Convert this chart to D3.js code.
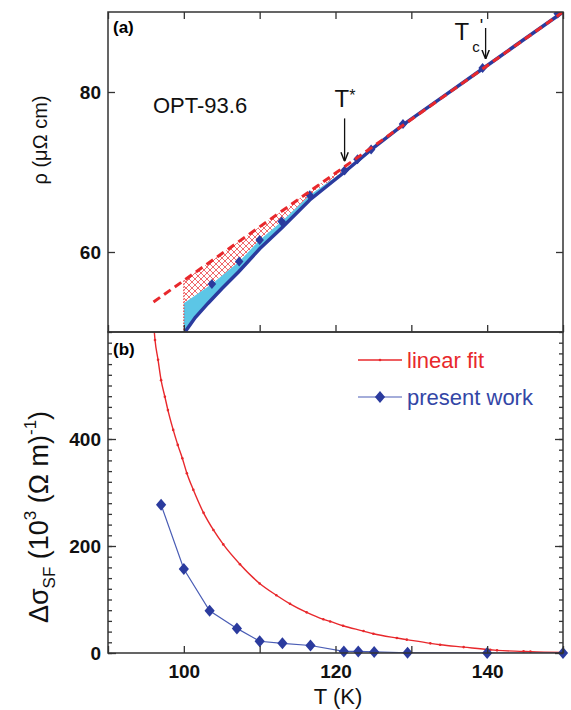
<!DOCTYPE html>
<html>
<head>
<meta charset="utf-8">
<script src="https://cdn.jsdelivr.net/npm/d3@7"></script>
<style>
  body { margin: 0; background: #fff; }
  text { font-family: Arial, "Liberation Sans", sans-serif; }
</style>
</head>
<body>
<div id="chart"></div>
<script>
// ---- panel (a): resistivity rho(T) ----
const presentT    = [100, 103.7, 107.3, 110, 112.9, 116.6, 121.2, 122.9, 124.7, 128.9, 139.4, 149.3];
const presentRho  = [53.6, 56.0, 58.8, 61.5, 63.8, 67.1, 70.2, 71.6, 72.8, 76.0, 83.0, 89.8];
const measuredT   = [100.15, 101.5, 103.2, 105, 107.2, 110, 112.9, 116.6, 121.2, 124.7, 128.9, 134, 139.4, 144, 150];
const measuredRho = [50, 51.8, 53.6, 55.4, 57.5, 60.4, 63.0, 66.5, 70.0, 72.8, 75.9, 79.3, 82.9, 86.0, 90.0];
const fitT   = [96, 150];
const fitRho = [53.75, 90];
const tLow = 100, tStar = 121.2, tcPrime = 139.4;

// ---- panel (b): excess conductivity ----
const sigmaT       = [97, 100, 103.4, 107, 110, 113, 116.7, 121.1, 123, 125.1, 129.5, 140, 150];
const sigmaPresent = [277, 157, 79, 46, 22, 18, 14, 3, 3, 2, 0.5, 0, 0];
const fitSigmaT = [96, 96.2, 96.6, 97, 97.5, 97.9, 98.6, 99.2, 99.8, 100.4, 101.25, 102.6, 103.9, 105.2, 107.4, 110,
                   112.2, 114, 116.2, 118.4, 119.3, 121, 123.7, 125, 128.1, 129.4, 132.5, 133.8, 136.9, 140.4, 141.3,
                   144.8, 145.7, 150];
const fitSigma  = [620, 585, 548, 510, 479, 454, 417, 389, 364, 336, 305, 262, 230, 203, 166, 130,
                   108, 92, 76, 63, 59, 51, 41, 36, 28, 25, 18, 15.5, 11, 6, 5,
                   3, 2.5, 1];

// ---- ticks ----
const tTicks = [90, 100, 110, 120, 130, 140, 150];
const tLabels = [100, 120, 140];
const rhoTicks = [60, 80];
const sigmaMajor = [0, 200, 400];
const sigmaMinor = d3.range(0, 601, 20);

const W = 571, H = 710;
const left = 108, right = 563;
const topA = 12, botA = 332, topB = 332, botB = 653;

const RED = '#e8282c', BLUE = '#2b3b9e', LBLUE = '#4a5db5', CYAN = '#5cc6e6', FRAME = '#333';

const svg = d3.select('#chart').append('svg')
  .attr('width', W).attr('height', H);

const defs = svg.append('defs');
defs.append('clipPath').attr('id', 'clipA').append('rect')
  .attr('x', left).attr('y', topA).attr('width', right - left).attr('height', botA - topA);
defs.append('clipPath').attr('id', 'clipB').append('rect')
  .attr('x', left).attr('y', topB).attr('width', right - left).attr('height', botB - topB);

const hatch = defs.append('pattern').attr('id', 'hatch')
  .attr('patternUnits', 'userSpaceOnUse').attr('width', 6).attr('height', 6);
hatch.append('path').attr('d', 'M0,0L6,6M6,0L0,6')
  .attr('stroke', RED).attr('stroke-width', 0.7).attr('fill', 'none');

defs.append('marker').attr('id', 'arrow')
  .attr('viewBox', '0 0 10 10').attr('refX', 10).attr('refY', 5)
  .attr('markerWidth', 7).attr('markerHeight', 7).attr('orient', 'auto')
  .append('path').attr('d', 'M0,1L10,5L0,9').attr('fill', 'none').attr('stroke', '#111').attr('stroke-width', 1.6);

const x = d3.scaleLinear().domain([90, 150]).range([left, right]);
const yA = d3.scaleLinear().domain([50, 90]).range([botA, topA]);
const yB = d3.scaleLinear().domain([0, 600]).range([botB, topB]);
const fitLine = d3.scaleLinear().domain(fitT).range(fitRho);
const presentAt = d3.scaleLinear().domain(presentT).range(presentRho);

const diamond = s => `M0,${-s}L${s * 0.85},0L0,${s}L${-s * 0.85},0Z`;

// ================= panel (a) =================
const gA = svg.append('g').attr('clip-path', 'url(#clipA)');

const presentPts = presentT.map((t, i) => [t, presentRho[i]]);
const measuredPts = measuredT.map((t, i) => [t, measuredRho[i]]);
const lineA = d3.line().x(d => x(d[0])).y(d => yA(d[1]));

// hatched area between linear fit and data (T_low .. T*)
const hatchPoly = [[tLow, fitLine(tLow)], [tStar, fitLine(tStar)]]
  .concat(presentPts.filter(d => d[0] <= tStar).reverse());
gA.append('path').attr('d', lineA(hatchPoly) + 'Z').attr('fill', 'url(#hatch)');

// cyan area between the two data curves
const cyanPoly = presentPts.filter(d => d[0] <= tStar)
  .concat(measuredPts.filter(d => d[0] <= tStar).reverse())
  .concat([[tLow, 50]]);
gA.append('path').attr('d', lineA(cyanPoly) + 'Z').attr('fill', CYAN);

// vertical dotted boundary
gA.append('line')
  .attr('x1', x(tLow)).attr('x2', x(tLow))
  .attr('y1', yA(fitLine(tLow))).attr('y2', yA(50))
  .attr('stroke', RED).attr('stroke-width', 1).attr('stroke-dasharray', '1.5,1.5');

// measured curve
gA.append('path').attr('d', lineA(measuredPts))
  .attr('fill', 'none').attr('stroke', BLUE).attr('stroke-width', 3.5);

gA.selectAll('.mA').data(presentPts.filter(d => d[0] > tLow)).enter()
  .append('path').attr('class', 'mA')
  .attr('transform', d => `translate(${x(d[0])},${yA(d[1])})`)
  .attr('d', diamond(5)).attr('fill', BLUE);

// linear fit dashed
gA.append('path').attr('d', lineA(fitT.map((t, i) => [t, fitRho[i]])))
  .attr('fill', 'none').attr('stroke', RED).attr('stroke-width', 3)
  .attr('stroke-dasharray', '8,5');

// axes panel (a)
svg.append('g').attr('transform', `translate(${left},0)`)
  .call(d3.axisLeft(yA).tickValues(rhoTicks).tickSize(-7).tickPadding(7).tickFormat(d3.format('d')))
  .call(g => g.select('.domain').remove());
svg.append('g').attr('transform', `translate(${right},0)`)
  .call(d3.axisRight(yA).tickValues(rhoTicks).tickSize(-7).tickFormat(''))
  .call(g => g.select('.domain').remove());
svg.append('g').attr('transform', `translate(0,${topA})`)
  .call(d3.axisTop(x).tickValues(tTicks).tickSize(-7).tickFormat(''))
  .call(g => g.select('.domain').remove());
svg.append('g').attr('transform', `translate(0,${botA})`)
  .call(d3.axisBottom(x).tickValues(tTicks).tickSize(-7).tickFormat(''))
  .call(g => g.select('.domain').remove());

// ================= panel (b) =================
const gB = svg.append('g').attr('clip-path', 'url(#clipB)');
const lineB = d3.line().x(d => x(d[0])).y(d => yB(d[1]));

const fitPts = fitSigmaT.map((t, i) => [t, fitSigma[i]]);
gB.append('path').attr('d', d3.line().curve(d3.curveMonotoneX).x(d => x(d[0])).y(d => yB(d[1]))(fitPts))
  .attr('fill', 'none').attr('stroke', RED).attr('stroke-width', 1.4);
gB.selectAll('.dot').data(fitPts).enter().append('circle')
  .attr('cx', d => x(d[0])).attr('cy', d => yB(d[1])).attr('r', 1.3).attr('fill', RED);

const presPtsB = sigmaT.map((t, i) => [t, sigmaPresent[i]]);
gB.append('path').attr('d', lineB(presPtsB))
  .attr('fill', 'none').attr('stroke', LBLUE).attr('stroke-width', 1.2);

svg.append('g').selectAll('.mB').data(presPtsB).enter()
  .append('path').attr('class', 'mB')
  .attr('transform', d => `translate(${x(d[0])},${yB(d[1])})`)
  .attr('d', diamond(6)).attr('fill', BLUE);

// axes panel (b)
svg.append('g').attr('transform', `translate(${left},0)`)
  .call(d3.axisLeft(yB).tickValues(sigmaMinor).tickSize(-4).tickFormat(''))
  .call(g => g.select('.domain').remove());
svg.append('g').attr('transform', `translate(${left},0)`)
  .call(d3.axisLeft(yB).tickValues(sigmaMajor).tickSize(-8).tickPadding(7).tickFormat(d3.format('d')))
  .call(g => g.select('.domain').remove());
svg.append('g').attr('transform', `translate(${right},0)`)
  .call(d3.axisRight(yB).tickValues(sigmaMinor).tickSize(-4).tickFormat(''))
  .call(g => g.select('.domain').remove());
svg.append('g').attr('transform', `translate(${right},0)`)
  .call(d3.axisRight(yB).tickValues(sigmaMajor).tickSize(-8).tickFormat(''))
  .call(g => g.select('.domain').remove());
svg.append('g').attr('transform', `translate(0,${botB})`)
  .call(d3.axisBottom(x).tickValues(tTicks).tickSize(-7).tickPadding(12)
    .tickFormat(d => tLabels.includes(d) ? d : ''))
  .call(g => g.select('.domain').remove());

svg.selectAll('.tick line').attr('stroke', FRAME).attr('stroke-width', 1.3);
svg.selectAll('.tick text').attr('font-size', 19).attr('font-weight', 'bold')
  .attr('font-family', 'Arial, "Liberation Sans", sans-serif').attr('fill', '#111');

// frames
[[topA, botA], [topB, botB]].forEach(([t, b]) => {
  svg.append('rect').attr('x', left).attr('y', t).attr('width', right - left).attr('height', b - t)
    .attr('fill', 'none').attr('stroke', FRAME).attr('stroke-width', 1.5);
});

// ---- annotations ----
svg.append('text').attr('x', 113).attr('y', 33).attr('font-size', 17).attr('font-weight', 'bold').text('(a)');
svg.append('text').attr('x', 113).attr('y', 355).attr('font-size', 17).attr('font-weight', 'bold').text('(b)');
svg.append('text').attr('x', 153).attr('y', 113).attr('font-size', 22).attr('fill', '#111').text('OPT-93.6');

// T* arrow
const sx = x(tStar), sy = yA(presentAt(tStar));
svg.append('line').attr('x1', sx).attr('x2', sx).attr('y1', sy - 52).attr('y2', sy - 9)
  .attr('stroke', '#111').attr('stroke-width', 1.3).attr('marker-end', 'url(#arrow)');
const ts = svg.append('text').attr('x', sx - 10).attr('y', sy - 63).attr('font-size', 24).attr('fill', '#111');
ts.append('tspan').text('T');
ts.append('tspan').attr('font-size', 16).attr('dy', -6).text('*');

// Tc' arrow
const cx = x(tcPrime) + 3, cy = yA(presentAt(tcPrime));
svg.append('line').attr('x1', cx).attr('x2', cx).attr('y1', cy - 40).attr('y2', cy - 9)
  .attr('stroke', '#111').attr('stroke-width', 1.3).attr('marker-end', 'url(#arrow)');
const tc = svg.append('text').attr('x', cx - 31).attr('y', cy - 28).attr('font-size', 24).attr('fill', '#111');
tc.append('tspan').text('T');
tc.append('tspan').attr('font-size', 15).attr('dy', 12).attr('dx', 3).text('c');
tc.append('tspan').attr('font-size', 18).attr('dy', -20).attr('dx', 0).text("'");

// axis titles
svg.append('text').attr('transform', 'translate(47,140) rotate(-90)')
  .attr('text-anchor', 'middle').attr('font-size', 20).attr('fill', '#111')
  .text('ρ (μΩ cm)');

const yl = svg.append('text').attr('transform', 'translate(48,517) rotate(-90)')
  .attr('text-anchor', 'middle').attr('font-size', 27).attr('fill', '#111');
yl.append('tspan').text('Δσ');
yl.append('tspan').attr('font-size', 17).attr('dy', 7).text('SF');
yl.append('tspan').attr('dy', -7).text(' (10');
yl.append('tspan').attr('font-size', 17).attr('dy', -12).text('3');
yl.append('tspan').attr('dy', 12).text(' (Ω m)');
yl.append('tspan').attr('font-size', 17).attr('dy', -12).text('-1');
yl.append('tspan').attr('dy', 12).text(')');

svg.append('text').attr('x', 338).attr('y', 704).attr('text-anchor', 'middle')
  .attr('font-size', 22).attr('fill', '#111').text('T (K)');

// ---- legend ----
const leg = svg.append('g');
leg.append('line').attr('x1', 358).attr('x2', 402).attr('y1', 360).attr('y2', 360)
  .attr('stroke', RED).attr('stroke-width', 1.4);
leg.append('circle').attr('cx', 380).attr('cy', 360).attr('r', 1.3).attr('fill', RED);
leg.append('text').attr('x', 407).attr('y', 368).attr('font-size', 22).attr('fill', RED).text('linear fit');
leg.append('line').attr('x1', 358).attr('x2', 402).attr('y1', 397).attr('y2', 397)
  .attr('stroke', LBLUE).attr('stroke-width', 1.2);
leg.append('path').attr('transform', 'translate(380,397)').attr('d', diamond(6)).attr('fill', BLUE);
leg.append('text').attr('x', 407).attr('y', 405).attr('font-size', 22).attr('fill', '#3346a6').text('present work');
</script>
</body>
</html>
